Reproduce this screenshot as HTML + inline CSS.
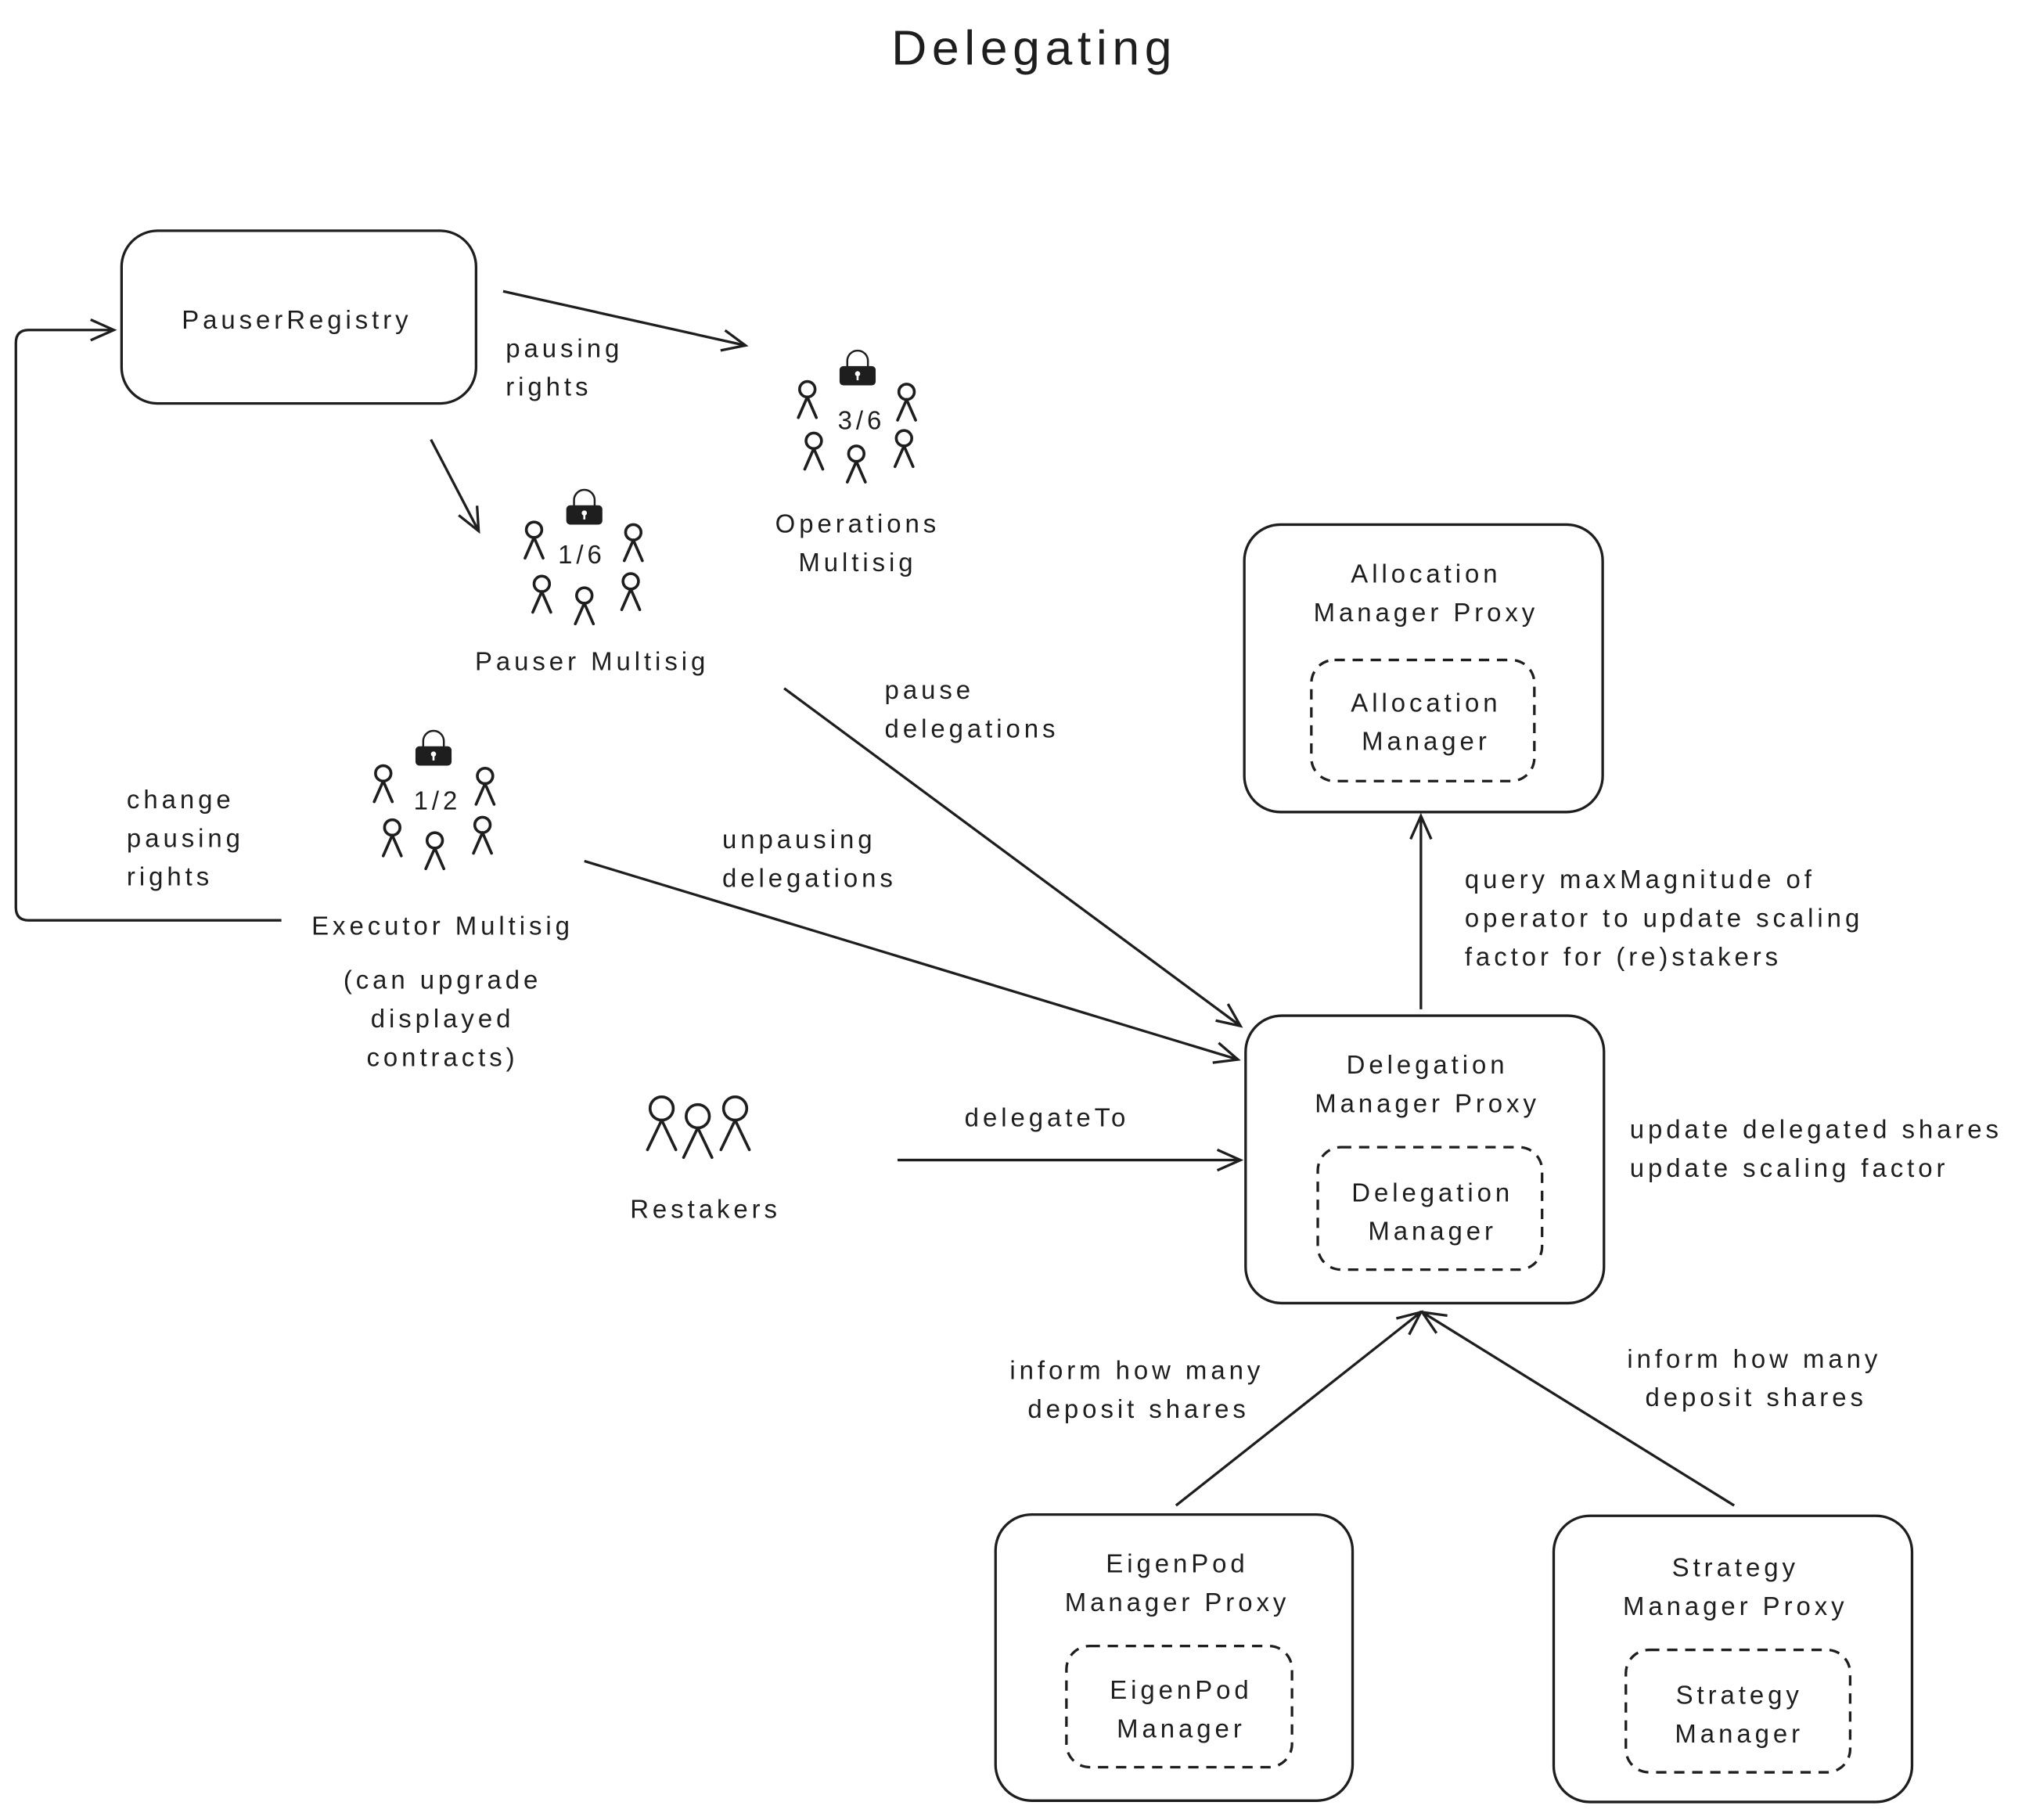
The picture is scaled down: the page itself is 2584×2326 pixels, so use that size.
<!DOCTYPE html>
<html><head><meta charset="utf-8"><style>
html,body{margin:0;padding:0;background:#fff}
svg{display:block}
text{font-family:"Liberation Sans",sans-serif;fill:#1e1e1e;font-size:20px;letter-spacing:3px}
</style></head><body>
<svg width="2584" height="2326" viewBox="0 0 1568 1412" xmlns="http://www.w3.org/2000/svg">
<defs>
<g id="p" fill="none" stroke="#1e1e1e" stroke-width="2.2" stroke-linecap="round"><circle cx="0" cy="-10" r="6"/><path d="M0,-4 L-7,12 M0,-4 L7,12"/></g>
<g id="P" fill="none" stroke="#1e1e1e" stroke-width="2.2" stroke-linecap="round"><circle cx="0" cy="-12" r="9"/><path d="M0,-3 L-11,20 M0,-3 L11,20"/></g>
<g id="lock"><path d="M-8,-2 v-5 a8,8 0 0 1 16,0 v5" fill="none" stroke="#1e1e1e" stroke-width="1.5"/><rect x="-14" y="-3" width="28" height="15" rx="3" fill="#1e1e1e"/><circle cx="0" cy="3" r="2" fill="#fff"/><rect x="-0.8" y="3" width="1.6" height="5" fill="#fff"/></g>
<marker id="a" markerWidth="30" markerHeight="30" refX="20" refY="10" orient="auto" markerUnits="userSpaceOnUse"><path d="M2,2 L20,10 L2,18" fill="none" stroke="#1e1e1e" stroke-width="2"/></marker>
</defs>
<text x="802" y="50" text-anchor="middle" style="font-size:38px;letter-spacing:4px">Delegating</text>
<g fill="none" stroke="#1e1e1e" stroke-width="2">
<rect x="94" y="179" width="275" height="134" rx="28"/>
<rect x="965" y="407" width="278" height="223" rx="28"/>
<rect x="1017" y="512" width="173" height="94" rx="18" stroke-dasharray="8 6"/>
<rect x="966" y="788" width="278" height="223" rx="28"/>
<rect x="1022" y="890" width="174" height="95" rx="18" stroke-dasharray="8 6"/>
<rect x="772" y="1175" width="277" height="222" rx="28"/>
<rect x="827" y="1277" width="175" height="94" rx="18" stroke-dasharray="8 6"/>
<rect x="1205" y="1176" width="278" height="222" rx="28"/>
<rect x="1261" y="1280" width="174" height="95" rx="18" stroke-dasharray="8 6"/>
<path d="M390,226 L578,268" marker-end="url(#a)"/>
<path d="M334,341 L371,412" marker-end="url(#a)"/>
<path d="M218,714 L22,714 Q12,714 12,704 L12,266 Q12,256 22,256 L88,256" marker-end="url(#a)"/>
<path d="M608,534 L962,796" marker-end="url(#a)"/>
<path d="M453,668 L960,822" marker-end="url(#a)"/>
<path d="M696,900 L962,900" marker-end="url(#a)"/>
<path d="M1102,783 L1102,633" marker-end="url(#a)"/>
<path d="M912,1168 L1102,1018" marker-end="url(#a)"/>
<path d="M1345,1168 L1103,1018" marker-end="url(#a)"/>
</g>
<use href="#lock" x="665" y="287"/><use href="#p" x="626" y="312"/><use href="#p" x="703" y="314"/><use href="#p" x="631" y="352"/><use href="#p" x="664" y="362"/><use href="#p" x="701" y="350"/>
<text x="668" y="333" text-anchor="middle">3/6</text>
<use href="#lock" x="453" y="395"/><use href="#p" x="414" y="421"/><use href="#p" x="491" y="423"/><use href="#p" x="420" y="463"/><use href="#p" x="453" y="472"/><use href="#p" x="489" y="461"/>
<text x="451" y="437" text-anchor="middle">1/6</text>
<use href="#lock" x="336" y="582"/><use href="#p" x="297" y="610"/><use href="#p" x="376" y="612"/><use href="#p" x="304" y="652"/><use href="#p" x="337" y="662"/><use href="#p" x="374" y="650"/>
<text x="339" y="628" text-anchor="middle">1/2</text>
<use href="#P" x="513" y="872"/><use href="#P" x="541" y="878"/><use href="#P" x="570" y="872"/>
<g text-anchor="middle">
<text x="230" y="255">PauserRegistry</text>
<text x="665" y="413">Operations</text><text x="665" y="443">Multisig</text>
<text x="459" y="520">Pauser Multisig</text>
<text x="343" y="725">Executor Multisig</text>
<text x="343" y="767">(can upgrade</text><text x="343" y="797">displayed</text><text x="343" y="827">contracts)</text>
<text x="547" y="945">Restakers</text>
<text x="1106" y="452">Allocation</text><text x="1106" y="482">Manager Proxy</text>
<text x="1106" y="552">Allocation</text><text x="1106" y="582">Manager</text>
<text x="1107" y="833">Delegation</text><text x="1107" y="863">Manager Proxy</text>
<text x="1111" y="932">Delegation</text><text x="1111" y="962">Manager</text>
<text x="913" y="1220">EigenPod</text><text x="913" y="1250">Manager Proxy</text>
<text x="916" y="1318">EigenPod</text><text x="916" y="1348">Manager</text>
<text x="1346" y="1223">Strategy</text><text x="1346" y="1253">Manager Proxy</text>
<text x="1349" y="1322">Strategy</text><text x="1349" y="1352">Manager</text>
</g>
<text x="392" y="277">pausing</text><text x="392" y="307">rights</text>
<text x="686" y="542">pause</text><text x="686" y="572">delegations</text>
<text x="98" y="627">change</text><text x="98" y="657">pausing</text><text x="98" y="687">rights</text>
<text x="560" y="658">unpausing</text><text x="560" y="688">delegations</text>
<text x="748" y="874">delegateTo</text>
<text x="1136" y="689">query maxMagnitude of</text><text x="1136" y="719">operator to update scaling</text><text x="1136" y="749">factor for (re)stakers</text>
<text x="1264" y="883">update delegated shares</text><text x="1264" y="913">update scaling factor</text>
<text x="783" y="1070">inform how many</text><text x="797" y="1100">deposit shares</text>
<text x="1262" y="1061">inform how many</text><text x="1276" y="1091">deposit shares</text>
</svg>
</body></html>
